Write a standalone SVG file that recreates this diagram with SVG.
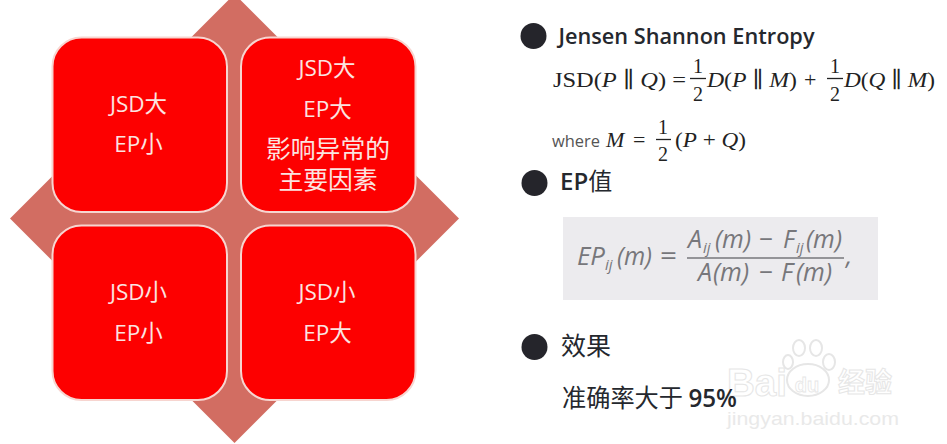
<svg xmlns="http://www.w3.org/2000/svg" width="947" height="444" viewBox="0 0 947 444">
<style>
.card{fill:#fd0000;stroke:#f7d5d0;stroke-width:2}
.ct{font-family:"Open Sans","Noto Sans CJK SC",sans-serif;font-size:22.500px;fill:#fbe4e0;text-anchor:middle}
.cz{font-size:24.800px}
.bul{fill:#25252b}
.h{font-family:"Open Sans","Noto Sans CJK SC",sans-serif;font-weight:600;fill:#25282e}
.m{font-family:"Liberation Serif","DejaVu Serif",serif;font-size:22px;fill:#222}
.mi{font-style:italic}
.n{font-size:20px;text-anchor:middle}
.e{font-family:"Open Sans","DejaVu Sans",sans-serif;font-size:25px;fill:#77777b;font-style:italic}
.es{font-size:15px}
.wm{font-family:"Liberation Sans",sans-serif;font-weight:bold;fill:#fff;stroke:#e6e6e6;stroke-width:1}
.fb{stroke:#222;stroke-width:1.300}
</style>
<rect width="947" height="444" fill="#fff"/>
<polygon id="diamond" points="234.500,-6 459,218.500 234.500,443 10,218.500" fill="#d26d62"/>
<g id="n1"><rect class="card" x="52.500" y="37.500" width="174.500" height="174.500" rx="29"/><text class="ct" x="138.500" y="112">JSD大</text><text class="ct" x="138.500" y="152">EP小</text></g>
<g id="n2"><rect class="card" x="241" y="37.500" width="174.500" height="174.500" rx="29"/><text class="ct" x="327" y="76">JSD大</text><text class="ct" x="327.500" y="117">EP大</text><text class="ct cz" x="328" y="158">影响异常的</text><text class="ct cz" x="328" y="189">主要因素</text></g>
<g id="n3"><rect class="card" x="52.500" y="225.500" width="174.500" height="174.500" rx="29"/><text class="ct" x="138.500" y="300">JSD小</text><text class="ct" x="138.500" y="341">EP小</text></g>
<g id="n4"><rect class="card" x="241" y="225.500" width="174.500" height="174.500" rx="29"/><text class="ct" x="327" y="300">JSD小</text><text class="ct" x="327.500" y="341">EP大</text></g>
<g id="connectors"/>
<g id="watermark">
<text class="wm" x="727" y="396" font-size="38" textLength="60" lengthAdjust="spacingAndGlyphs">Bai</text>
<ellipse cx="808" cy="380" rx="21" ry="16" fill="none" stroke="#e6e6e6" stroke-width="2"/>
<ellipse cx="788" cy="362" rx="5" ry="7" fill="none" stroke="#e6e6e6" stroke-width="2"/>
<ellipse cx="799" cy="348" rx="6" ry="8" fill="none" stroke="#e6e6e6" stroke-width="2"/>
<ellipse cx="816" cy="348" rx="6" ry="8" fill="none" stroke="#e6e6e6" stroke-width="2"/>
<ellipse cx="829" cy="362" rx="6" ry="8" fill="none" stroke="#e6e6e6" stroke-width="2"/>
<text class="wm" x="807" y="392" font-size="20" text-anchor="middle" style="stroke-width:.8">du</text>
<text x="838" y="392" font-size="27" fill="#fff" stroke="#e6e6e6" font-family="'Noto Sans CJK SC',sans-serif" font-weight="bold">经验</text>
<text x="727" y="425" font-size="19" fill="#e9e9e9" font-family="'Liberation Sans',sans-serif" textLength="172" lengthAdjust="spacingAndGlyphs">jingyan.baidu.com</text>
</g>
<g id="sec1">
<circle class="bul" cx="533.500" cy="36" r="13"/>
<text class="h" x="558.500" y="44" font-size="21.500" textLength="256" lengthAdjust="spacingAndGlyphs">Jensen Shannon Entropy</text>
<text class="m" x="553" y="87" textLength="133" lengthAdjust="spacingAndGlyphs">JSD(<tspan class="mi">P</tspan> ∥ <tspan class="mi">Q</tspan>) =</text>
<text class="m n" x="698" y="73">1</text><line class="fb" x1="690" x2="706" y1="78.500" y2="78.500"/><text class="m n" x="698" y="101">2</text>
<text class="m" x="707" y="87" textLength="90" lengthAdjust="spacingAndGlyphs"><tspan class="mi">D</tspan>(<tspan class="mi">P</tspan> ∥ <tspan class="mi">M</tspan>)</text>
<text class="m" x="804" y="87">+</text>
<text class="m n" x="835" y="73">1</text><line class="fb" x1="827" x2="843" y1="78.500" y2="78.500"/><text class="m n" x="835" y="101">2</text>
<text class="m" x="844" y="87" textLength="91" lengthAdjust="spacingAndGlyphs"><tspan class="mi">D</tspan>(<tspan class="mi">Q</tspan> ∥ <tspan class="mi">M</tspan>)</text>
<text x="552" y="147" font-family="'Open Sans',sans-serif" font-size="16.500" fill="#555" textLength="48" lengthAdjust="spacingAndGlyphs">where</text>
<text class="m" x="606" y="147"><tspan class="mi">M</tspan></text>
<text class="m" x="633" y="147">=</text>
<text class="m n" x="663" y="134">1</text><line class="fb" x1="656" x2="671" y1="139.500" y2="139.500"/><text class="m n" x="663" y="161">2</text>
<text class="m" x="675" y="147" textLength="71" lengthAdjust="spacingAndGlyphs">(<tspan class="mi">P</tspan> + <tspan class="mi">Q</tspan>)</text>
</g>
<g id="sec2">
<circle class="bul" cx="534.500" cy="183" r="13"/>
<text class="h" x="560" y="190" font-size="24">EP<tspan font-weight="400">值</tspan></text>
<rect x="563" y="217" width="315" height="83" fill="#ecebee"/>
<text class="e" x="577" y="265" textLength="28" lengthAdjust="spacingAndGlyphs">EP</text><text class="e es" x="605" y="270">ij</text><text class="e" x="617" y="265" textLength="35" lengthAdjust="spacingAndGlyphs">(m)</text><text class="e" x="660" y="265" style="font-style:normal" textLength="17" lengthAdjust="spacingAndGlyphs">=</text>
<text class="e" x="688" y="248">A</text><text class="e es" x="703" y="253">ij</text><text class="e" x="715" y="248" textLength="36" lengthAdjust="spacingAndGlyphs">(m)</text><text class="e" x="759" y="248" style="font-style:normal" textLength="14" lengthAdjust="spacingAndGlyphs">−</text><text class="e" x="783" y="248">F</text><text class="e es" x="796" y="253">ij</text><text class="e" x="806" y="248" textLength="36" lengthAdjust="spacingAndGlyphs">(m)</text>
<line x1="687" x2="844" y1="258" y2="258" stroke="#77777b" stroke-width="1.500"/>
<text class="e" x="698" y="281">A</text><text class="e" x="713" y="281" textLength="36" lengthAdjust="spacingAndGlyphs">(m)</text><text class="e" x="759" y="281" style="font-style:normal" textLength="14" lengthAdjust="spacingAndGlyphs">−</text><text class="e" x="781" y="281">F</text><text class="e" x="796" y="281" textLength="36" lengthAdjust="spacingAndGlyphs">(m)</text>
<text class="e" x="846" y="265">,</text>
</g>
<g id="sec3">
<circle class="bul" cx="534.500" cy="347" r="13"/>
<text x="561" y="355" font-family="'Noto Sans CJK SC',sans-serif" font-size="25" fill="#25282e">效果</text>
<text x="562" y="407" font-family="'Noto Sans CJK SC',sans-serif" font-size="24.500" fill="#25282e" textLength="175" lengthAdjust="spacingAndGlyphs">准确率大于 <tspan font-family="'Open Sans',sans-serif" font-weight="600">95%</tspan></text>
</g>
</svg>
